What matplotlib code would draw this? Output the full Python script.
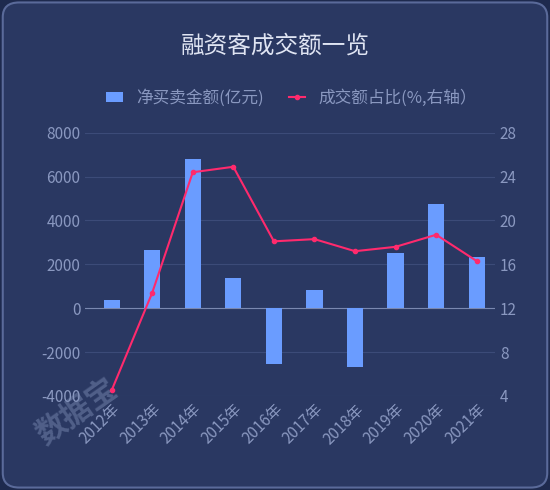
import matplotlib.pyplot as plt
from matplotlib.patches import FancyBboxPatch

plt.rcParams['font.family'] = ['Noto Sans CJK SC', 'DejaVu Sans']
plt.rcParams['axes.unicode_minus'] = False

years = ['2012年', '2013年', '2014年', '2015年', '2016年', '2017年', '2018年', '2019年', '2020年', '2021年']
net_buy = [360, 2650, 6800, 1400, -2550, 850, -2700, 2500, 4750, 2350]
share = [4.5, 13.4, 24.4, 24.9, 18.1, 18.3, 17.2, 17.6, 18.7, 16.3]

bg = '#2a3862'
txt = '#8a98c0'
fig = plt.figure(figsize=(5.5, 4.9), dpi=100)
fig.patch.set_facecolor('#1e2a4e')
fig.patches.append(FancyBboxPatch((0.005, 0.005), 0.99, 0.99, boxstyle='round,pad=0,rounding_size=0.03',
                                  transform=fig.transFigure, facecolor=bg, edgecolor='#5a6a9a', lw=1.5,
                                  zorder=-10))

ax = fig.add_axes([0.155, 0.192, 0.745, 0.537])
ax.set_facecolor('none')
x = range(len(years))
ax.bar(x, net_buy, width=0.4, color='#6a9cff', label='净买卖金额(亿元)', zorder=3)
ax.set_ylim(-4000, 8000)
ax.set_yticks(range(-4000, 8001, 2000))
ax.grid(axis='y', color='#3c4b78', lw=0.8, zorder=0)
ax.axhline(0, color='#7a88b0', lw=0.8, zorder=2)
ax.set_xlim(-0.65, 9.45)
ax.set_xticks(list(x))
ax.set_xticklabels(years, rotation=45, ha='right', rotation_mode='anchor')
for s in ax.spines.values():
    s.set_visible(False)
ax.tick_params(colors=txt, labelsize=11, length=0)

ax2 = ax.twinx()
ax2.plot(x, share, color='#ff2a6d', lw=1.5, marker='o', ms=3, label='成交额占比(%,右轴）', zorder=4)
ax2.set_ylim(4, 28)
ax2.set_yticks(range(4, 29, 4))
for s in ax2.spines.values():
    s.set_visible(False)
ax2.tick_params(colors=txt, labelsize=11, length=0)

h1, l1 = ax.get_legend_handles_labels()
h2, l2 = ax2.get_legend_handles_labels()
fig.legend(h1 + h2, l1 + l2, loc='center', bbox_to_anchor=(0.53, 0.8), ncol=2, frameon=False,
           fontsize=12, labelcolor=txt, handlelength=1.0, handleheight=0.6, columnspacing=1.5)

fig.text(0.5, 0.905, '融资客成交额一览', ha='center', va='center', fontsize=17, color='#dfe4f2')
fig.text(0.14, 0.16, '数据宝', rotation=35, ha='center', va='center', fontsize=22,
         color='#8090b8', alpha=0.45, fontweight='bold')

fig.savefig('out.png', facecolor=fig.get_facecolor())
